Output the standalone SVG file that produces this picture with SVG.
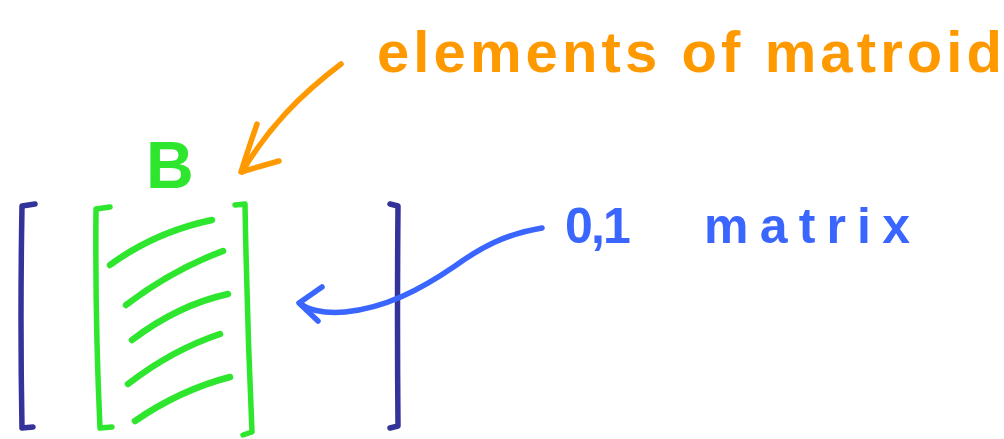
<svg xmlns="http://www.w3.org/2000/svg" width="1004" height="439" viewBox="0 0 1004 439">
<style>
.stroke{fill:none;stroke-linecap:round;stroke-linejoin:round;stroke-width:5.5}
.navy{stroke:#333399}
.green{stroke:#2ee62e}
.hatch{stroke-width:6.5}
.orange{stroke:#ff9900}
.blue{stroke:#3a66ff}
.lbl{font-family:"Liberation Sans","Noto Sans",sans-serif;font-weight:bold}
</style>
<rect width="1004" height="439" fill="#ffffff"/>
<g id="outer-matrix">
<path class="stroke navy" d="M35,204 L22,206 Q20,320 22,428 L33,427"/>
<path class="stroke navy" d="M390,204 L398,206 Q397,320 398,426 L390,428"/>
</g>
<g id="B-block">
<path class="stroke green" d="M110,207 L96,209 Q95,320 100,428 L112,427"/>
<path class="stroke green" d="M235,205 L245,204 Q247,320 252,432 L243,435"/>
<path class="stroke green hatch" d="M110,265 Q155,232 212,220"/>
<path class="stroke green hatch" d="M126,305 Q172,270 223,251"/>
<path class="stroke green hatch" d="M132,340 Q178,305 228,294"/>
<path class="stroke green hatch" d="M128,384 Q172,350 220,334"/>
<path class="stroke green hatch" d="M135,421 Q180,390 230,377"/>
<text class="lbl" x="146" y="188" font-size="66" fill="#2ee62e">B</text>
</g>
<g id="label-elements">
<text class="lbl" x="377" y="72" font-size="58" fill="#ff9900" textLength="625" lengthAdjust="spacing">elements of matroid</text>
</g>
<g id="label-matrix">
<text class="lbl" y="243" font-size="50" fill="#3a66ff"><tspan x="565" textLength="78" lengthAdjust="spacing">0,1 </tspan><tspan x="704" textLength="206" lengthAdjust="spacing">matrix</tspan></text>
</g>
<g id="connectors">
<path class="stroke orange" d="M341,64 C300,95 268,128 242,172"/>
<path class="stroke orange" d="M257,124 Q248,150 241,172 L279,161"/>
<path class="stroke blue" d="M542,228 C505,234 480,248 455,266 C420,290 385,308 345,312 C322,314 306,309 300,303"/>
<path class="stroke blue" d="M322,287 L299,303 L318,321"/>
</g>
</svg>
